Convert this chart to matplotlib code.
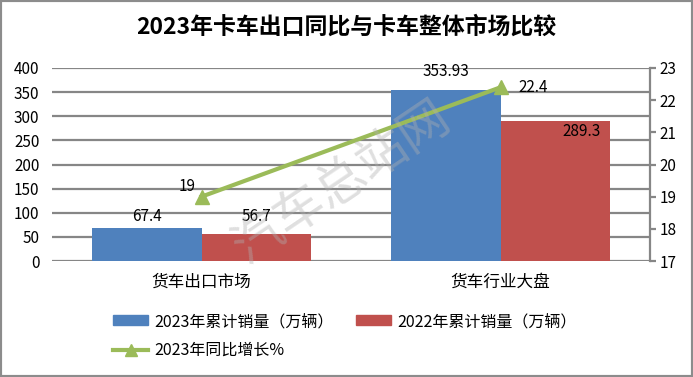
import numpy as np
import matplotlib
matplotlib.use("Agg")
import matplotlib.pyplot as plt
from matplotlib.patches import Patch, Rectangle
from matplotlib.lines import Line2D

plt.rcParams['font.family'] = ['Noto Sans CJK SC', 'DejaVu Sans']

categories = ["货车出口市场", "货车行业大盘"]
sales_2023 = [67.4, 353.93]
sales_2022 = [56.7, 289.3]
growth_2023 = [19, 22.4]
left_ticks = [0, 50, 100, 150, 200, 250, 300, 350, 400]
right_ticks = [17, 18, 19, 20, 21, 22, 23]

blue = "#4F81BD"
red = "#C0504D"
green = "#9BBB59"
grid_c = "#868686"

fig = plt.figure(figsize=(6.93, 3.77), dpi=100)
W, H = 693, 377
ax = fig.add_axes([52 / W, (H - 261) / H, (650 - 52) / W, (261 - 68) / H])

x = np.arange(len(categories))
bw = 0.365
ax.bar(x - bw / 2, sales_2023, bw, color=blue, zorder=3)
ax.bar(x + bw / 2, sales_2022, bw, color=red, zorder=3)
ax.set_xlim(-0.5, 1.5)
ax.set_ylim(0, 400)
ax.set_yticks(left_ticks)
ax.yaxis.grid(True, color=grid_c, linewidth=1.6, zorder=0)
ax.set_axisbelow(True)
for s in ax.spines.values():
    s.set_visible(False)
ax.tick_params(axis='y', length=0, labelsize=11, pad=9)
ax.set_xticks(x)
ax.set_xticklabels(categories, fontsize=12)
ax.tick_params(axis='x', length=0, pad=9)

# data labels for bars
lf = 11
ax.text(x[0] - bw / 2, sales_2023[0] + 7, f"{sales_2023[0]:g}", ha='center', va='bottom', fontsize=lf, zorder=6)
ax.text(x[0] + bw / 2, sales_2022[0] + 18, f"{sales_2022[0]:g}", ha='center', va='bottom', fontsize=lf, zorder=6)
ax.text(x[1] - bw / 2, sales_2023[1] + 22, f"{sales_2023[1]:g}", ha='center', va='bottom', fontsize=lf, zorder=6, clip_on=False)
ax.text(x[1] + bw / 2 + 0.09, sales_2022[1] - 20, f"{sales_2022[1]:g}", ha='center', va='center', fontsize=lf, zorder=6)

ax2 = ax.twinx()
ax2.set_ylim(17, 23)
ax2.set_yticks(right_ticks)
for s in ["left", "top", "bottom"]:
    ax2.spines[s].set_visible(False)
ax2.spines["right"].set_color(grid_c)
ax2.spines["right"].set_linewidth(1.6)
ax2.tick_params(axis='y', direction='out', length=4, width=1.6, color=grid_c, labelsize=11, pad=3)
ax2.plot(x, growth_2023, color=green, linewidth=3, marker='^', markersize=10, zorder=5)
ax2.text(x[0] - 0.02, growth_2023[0] + 0.05, f"{growth_2023[0]:g}", ha='right', va='bottom', fontsize=lf)
ax2.text(x[1] + 0.11, growth_2023[1], f"{growth_2023[1]:g}", ha='center', va='center', fontsize=lf)

# watermark
fig.text(342 / W, 1 - 183 / H, "汽车总站网", fontsize=36, color="#b0b0b0", alpha=0.4,
         rotation=34, ha='center', va='center', zorder=10)

fig.text(0.5, 1 - 27 / H, "2023年卡车出口同比与卡车整体市场比较", ha='center', va='center',
         fontsize=16.5, fontweight='bold')

handles = [Patch(color=blue), Line2D([], [], color=green, linewidth=3, marker='^', markersize=9),
           Patch(color=red)]
labels = ["2023年累计销量（万辆）", "2023年同比增长%", "2022年累计销量（万辆）"]
fig.legend(handles, labels, ncol=2, loc='center left', bbox_to_anchor=(113 / W, 1 - 336 / H),
           frameon=False, fontsize=11.5, handlelength=2.2, handleheight=0.6, columnspacing=1.4,
           labelspacing=0.75, handletextpad=0.4, borderpad=0, borderaxespad=0)

fig.patches.append(Rectangle((0, 0), 1, 1, transform=fig.transFigure, fill=False,
                             edgecolor="#8c8c8c", linewidth=3))
fig.savefig("out.png", dpi=100)
